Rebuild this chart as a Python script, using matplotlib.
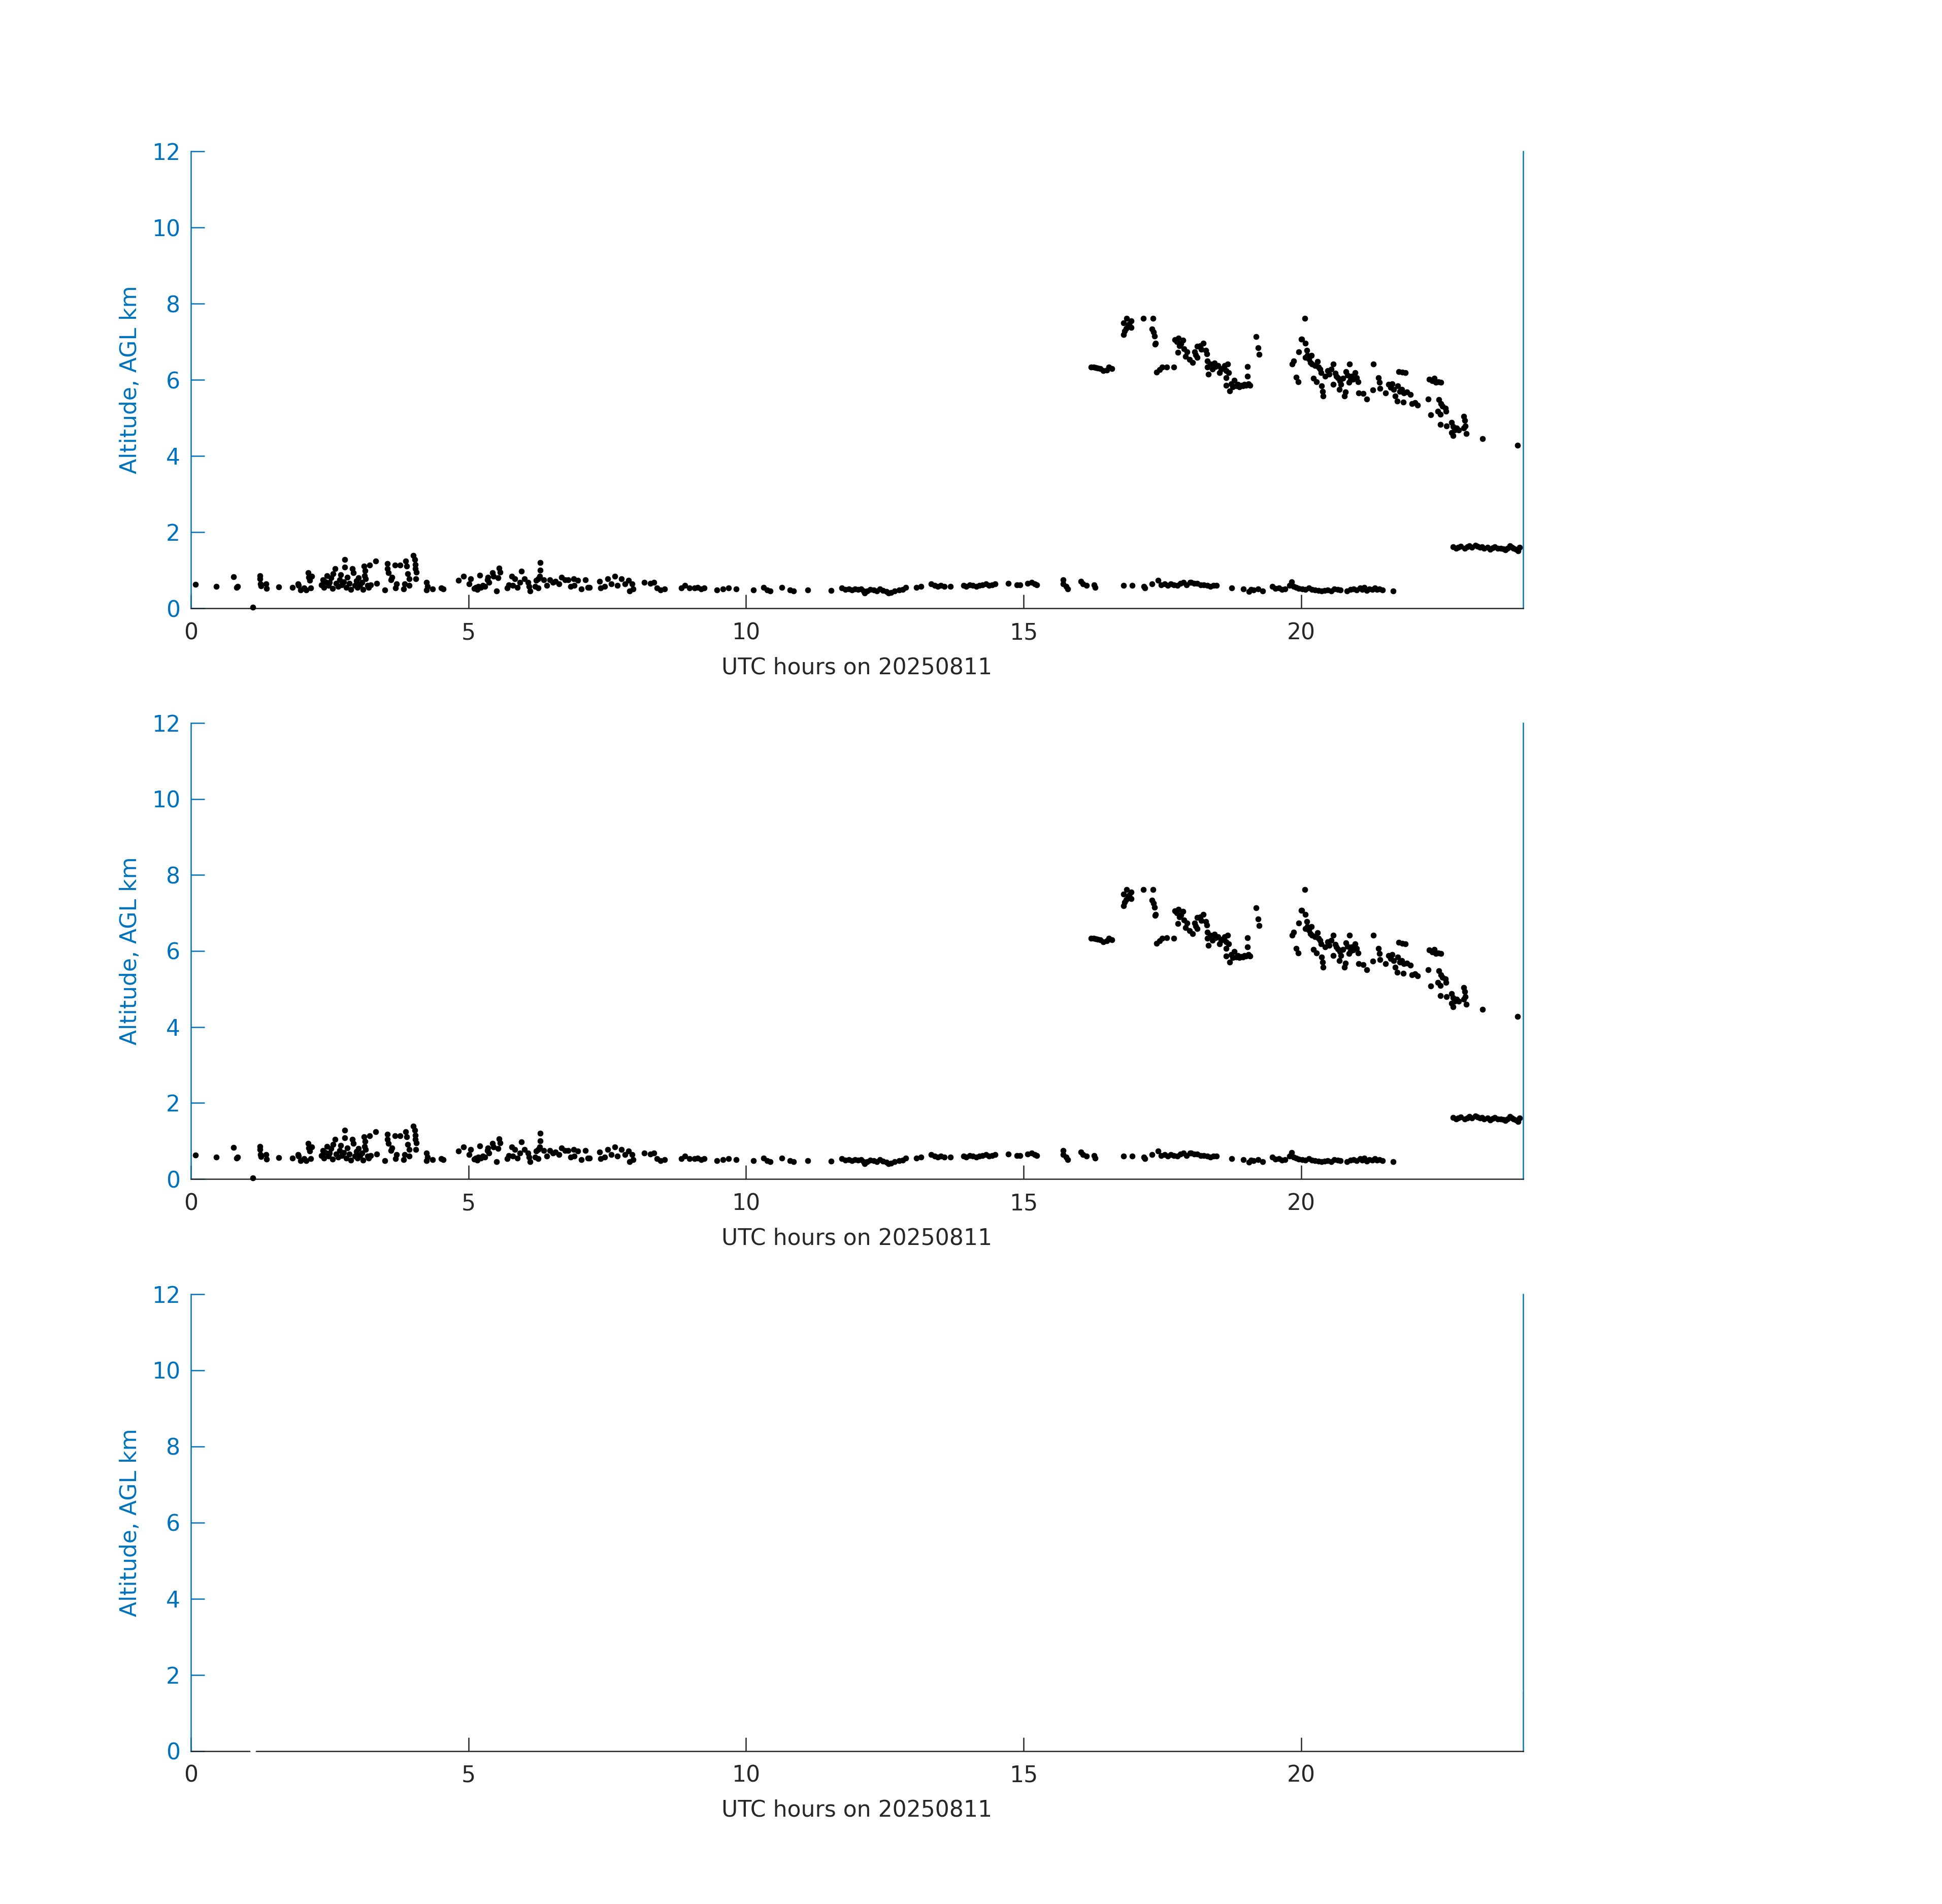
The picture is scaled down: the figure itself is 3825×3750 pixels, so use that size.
import matplotlib
matplotlib.use("Agg")
import matplotlib.pyplot as plt

# ---- data: UTC hour, altitude AGL (km) ----
low_hours = [
    0.08, 0.46, 0.77, 0.82, 0.84, 1.12, 1.24, 1.24, 1.25, 1.26, 1.35, 1.36, 1.58,
    1.83, 1.93, 1.94, 1.98, 2.04, 2.08, 2.11, 2.12, 2.14, 2.18, 2.16,
    2.35, 2.38, 2.40, 2.42, 2.45, 2.48, 2.50, 2.52, 2.55, 2.56, 2.60, 2.62, 2.65, 2.68,
    2.70, 2.72, 2.75, 2.77, 2.77, 2.80, 2.82, 2.85, 2.88, 2.91, 2.93, 2.95, 2.98,
    3.00, 3.02, 3.05, 3.08, 3.10, 3.12, 3.13, 3.14, 3.15, 3.18, 3.20, 3.22, 3.24,
    3.33, 3.35, 3.49, 3.54, 3.54, 3.56, 3.60, 3.62, 3.68, 3.69, 3.70, 3.77,
    3.83, 3.85, 3.87, 3.89, 3.91, 3.93, 3.93, 4.01, 4.03, 4.04, 4.04, 4.05, 4.06,
    4.24, 4.24, 4.26, 4.35, 4.51, 4.55,
    4.82, 4.91, 5.01, 5.04, 5.10, 5.13, 5.16, 5.18, 5.20, 5.22, 5.26, 5.30,
    5.34, 5.35, 5.37, 5.43, 5.45, 5.51, 5.53, 5.55, 5.57,
    5.70, 5.73, 5.78, 5.80, 5.84, 5.88, 5.93, 5.95, 6.01,
    6.07, 6.09, 6.11, 6.20, 6.22, 6.26, 6.26, 6.28, 6.29, 6.29,
    6.36, 6.41, 6.47, 6.52, 6.57, 6.63, 6.68, 6.74, 6.80, 6.84, 6.90, 6.91, 6.97,
    7.03, 7.11, 7.15, 7.18, 7.36, 7.38, 7.45, 7.51, 7.57, 7.64, 7.68, 7.76,
    7.82, 7.88, 7.90, 7.95, 7.97, 8.17, 8.28, 8.34, 8.40, 8.46, 8.53,
    8.84, 8.90, 8.98, 9.07, 9.13, 9.19, 9.25, 9.48, 9.59, 9.69, 9.82,
    10.13, 10.32, 10.38, 10.44, 10.65, 10.79, 10.86, 11.11, 11.53,
    11.73, 11.79, 11.85, 11.91, 11.96, 12.02, 12.07, 12.12, 12.14, 12.18, 12.24,
    12.30, 12.36, 12.41, 12.47, 12.53, 12.57, 12.61, 12.68, 12.76, 12.82, 12.88,
    13.07, 13.15, 13.34, 13.40, 13.45, 13.51, 13.57, 13.68,
    13.92, 13.97, 14.03, 14.09, 14.15, 14.20, 14.26, 14.32, 14.38, 14.43, 14.49,
    14.73, 14.88, 14.94, 15.07, 15.15, 15.20, 15.24,
    15.71, 15.71, 15.77, 15.80, 16.03, 16.07, 16.13, 16.27, 16.29,
    16.80, 16.96, 17.17, 17.19, 17.31, 17.42, 17.48, 17.54, 17.60, 17.65, 17.71,
    17.77, 17.83, 17.88, 17.94, 18.00, 18.02, 18.07, 18.13, 18.19, 18.25, 18.31,
    18.37, 18.42, 18.48, 18.75, 18.96, 19.06, 19.10, 19.14, 19.23, 19.31,
    19.48, 19.54, 19.60, 19.66, 19.71, 19.79, 19.83, 19.87, 19.91, 19.96, 20.02,
    20.08, 20.14, 20.20, 20.25, 20.31, 20.37, 20.42, 20.48, 20.54, 20.60, 20.66, 20.71,
    20.83, 20.89, 20.95, 21.00, 21.06, 21.10, 21.14, 21.18, 21.23, 21.28, 21.33,
    21.37, 21.41, 21.47, 21.66,
]
low_alt = [
    0.63, 0.58, 0.83, 0.55, 0.57, 0.03, 0.86, 0.77, 0.64, 0.59, 0.64, 0.52, 0.56,
    0.55, 0.64, 0.60, 0.48, 0.53, 0.48, 0.94, 0.82, 0.73, 0.84, 0.53,
    0.62, 0.75, 0.55, 0.70, 0.85, 0.60, 0.68, 0.80, 0.52, 0.91, 1.04, 0.65, 0.58, 0.75,
    0.88, 0.62, 0.70, 1.28, 1.08, 0.55, 0.82, 0.66, 0.50, 1.04, 0.93, 0.60, 0.72,
    0.55, 0.80, 0.62, 0.68, 0.50, 1.11, 0.86, 0.99, 0.77, 0.60, 0.55, 1.13, 0.62,
    1.24, 0.65, 0.48, 1.17, 1.04, 0.93, 0.75, 0.82, 1.13, 0.53, 0.64, 1.13,
    0.51, 0.64, 1.24, 1.11, 0.91, 0.77, 0.60, 1.39, 1.28, 1.15, 1.04, 0.77, 0.95,
    0.68, 0.48, 0.57, 0.51, 0.53, 0.51,
    0.73, 0.84, 0.64, 0.78, 0.52, 0.55, 0.50, 0.58, 0.87, 0.55, 0.60, 0.57,
    0.75, 0.82, 0.68, 0.93, 0.84, 0.46, 0.80, 1.06, 0.95,
    0.53, 0.62, 0.84, 0.60, 0.77, 0.55, 0.68, 0.97, 0.77,
    0.68, 0.57, 0.46, 0.57, 0.73, 0.77, 0.53, 0.84, 1.20, 1.00,
    0.75, 0.60, 0.75, 0.68, 0.71, 0.64, 0.82, 0.75, 0.75, 0.57, 0.77, 0.60, 0.73,
    0.51, 0.75, 0.55, 0.55, 0.71, 0.53, 0.57, 0.77, 0.64, 0.84, 0.60, 0.77,
    0.64, 0.73, 0.46, 0.64, 0.51, 0.68, 0.66, 0.68, 0.53, 0.48, 0.51,
    0.53, 0.60, 0.53, 0.53, 0.55, 0.51, 0.53, 0.48, 0.51, 0.53, 0.51,
    0.48, 0.55, 0.48, 0.46, 0.55, 0.48, 0.46, 0.48, 0.47,
    0.53, 0.50, 0.51, 0.48, 0.51, 0.50, 0.51, 0.46, 0.40, 0.46, 0.50,
    0.48, 0.45, 0.51, 0.47, 0.44, 0.40, 0.42, 0.46, 0.48, 0.50, 0.55,
    0.55, 0.57, 0.64, 0.60, 0.57, 0.60, 0.57, 0.57,
    0.60, 0.58, 0.62, 0.60, 0.57, 0.60, 0.62, 0.64, 0.60, 0.62, 0.64,
    0.66, 0.62, 0.62, 0.66, 0.68, 0.64, 0.62,
    0.75, 0.64, 0.57, 0.51, 0.71, 0.64, 0.60, 0.62, 0.55,
    0.60, 0.60, 0.57, 0.53, 0.64, 0.73, 0.62, 0.64, 0.60, 0.64, 0.62,
    0.60, 0.66, 0.68, 0.62, 0.68, 0.68, 0.66, 0.66, 0.62, 0.62, 0.60,
    0.57, 0.60, 0.60, 0.53, 0.51, 0.44, 0.50, 0.48, 0.51, 0.46,
    0.57, 0.52, 0.53, 0.49, 0.51, 0.60, 0.69, 0.58, 0.55, 0.52, 0.51,
    0.50, 0.53, 0.50, 0.48, 0.47, 0.46, 0.47, 0.48, 0.46, 0.51, 0.49, 0.48,
    0.46, 0.49, 0.51, 0.48, 0.53, 0.50, 0.55, 0.47, 0.51, 0.49, 0.53,
    0.50, 0.51, 0.48, 0.46,
]

mid_hours = [
    22.74, 22.79, 22.83, 22.88, 22.95, 22.99, 23.03, 23.08, 23.14, 23.18, 23.22,
    23.26, 23.30, 23.36, 23.41, 23.45, 23.49, 23.54, 23.60, 23.64, 23.68, 23.72,
    23.76, 23.80, 23.83, 23.87, 23.91, 23.94,
]
mid_alt = [
    1.62, 1.58, 1.60, 1.63, 1.58, 1.61, 1.64, 1.60, 1.66, 1.63, 1.60,
    1.62, 1.58, 1.60, 1.55, 1.59, 1.62, 1.58, 1.58, 1.56, 1.53, 1.58,
    1.64, 1.60, 1.58, 1.55, 1.51, 1.60,
]

high_hours = [
    16.22, 16.26, 16.30, 16.34, 16.38, 16.44, 16.50, 16.54, 16.59,
    16.80, 16.82, 16.85, 16.88, 16.94, 16.80, 16.86, 16.94, 16.90,
    17.16, 17.33, 17.31, 17.34, 17.36, 17.37, 17.38,
    17.40, 17.45, 17.50, 17.58, 17.71,
    17.73, 17.79, 17.87, 17.81, 17.89, 17.78, 17.95, 17.99, 18.05, 17.76, 17.84, 17.92,
    18.08, 18.13, 18.18, 18.24, 18.28, 18.30, 18.31, 18.13, 18.10, 18.20,
    18.31, 18.37, 18.44, 18.50, 18.56, 18.62, 18.68, 18.33, 18.40, 18.53, 18.65,
    18.70, 18.46, 18.58,
    18.65, 18.65, 18.71, 18.77, 18.83, 18.89, 18.95, 19.01, 19.08, 19.03, 19.03,
    18.80, 18.74, 18.86, 18.92, 18.98, 19.05,
    19.19, 19.23, 19.24,
    19.84, 19.87, 19.91, 19.95, 20.07,
    20.00, 19.96, 20.01, 20.08, 20.10, 20.11, 20.08, 20.14, 20.19, 20.17, 20.20,
    20.25, 20.30, 20.31, 20.34, 20.36, 20.22, 20.28, 20.37, 20.39, 20.40,
    20.43, 20.48, 20.54, 20.58, 20.62, 20.63, 20.58, 20.69, 20.72, 20.75, 20.78,
    20.80, 20.81, 20.87, 20.91, 20.86, 20.97, 21.00, 21.03, 20.94, 20.51, 20.66,
    20.84, 20.89, 20.70,
    21.04, 21.12, 21.18, 21.29, 21.30, 21.39, 21.41, 21.42,
    21.52, 21.58, 21.64, 21.67, 21.70, 21.74, 21.81, 21.85, 21.91, 21.97, 21.73,
    21.84, 22.00, 22.10, 21.61, 21.78, 22.05,
    21.76, 21.88, 21.82,
    22.29, 22.34, 22.31, 22.40, 22.43, 22.52, 22.36, 22.47,
    22.48, 22.52, 22.55, 22.60, 22.61, 22.46, 22.51,
    22.51, 22.62, 22.71, 22.74, 22.77, 22.80, 22.84, 22.74, 22.71,
    22.93, 22.95, 22.96, 22.93, 22.98,
    23.27, 23.90,
]
high_alt = [
    6.33, 6.33, 6.32, 6.31, 6.29, 6.24, 6.26, 6.33, 6.29,
    7.19, 7.28, 7.35, 7.42, 7.37, 7.50, 7.61, 7.55, 7.47,
    7.61, 7.61, 7.33, 7.26, 7.15, 6.94, 6.96,
    6.20, 6.27, 6.33, 6.34, 6.33,
    7.06, 7.09, 7.04, 6.90, 6.81, 6.72, 6.73, 6.53, 6.46, 7.00, 6.95, 6.62,
    6.73, 6.88, 6.90, 6.96, 6.77, 6.68, 6.50, 6.59, 6.66, 6.80,
    6.33, 6.42, 6.44, 6.37, 6.28, 6.37, 6.41, 6.15, 6.28, 6.19, 6.24,
    6.19, 6.35, 6.30,
    6.06, 5.86, 5.71, 5.82, 5.84, 5.82, 5.84, 5.86, 5.86, 6.35, 6.10,
    5.99, 5.90, 5.88, 5.85, 5.88, 5.90,
    7.14, 6.84, 6.67,
    6.42, 6.50, 6.07, 5.95, 7.61,
    7.07, 6.73, 7.07, 6.96, 6.77, 6.64, 6.59, 6.55, 6.64, 6.46, 6.42,
    6.37, 6.48, 6.33, 6.28, 6.19, 6.04, 5.95, 5.84, 5.70, 5.57,
    6.10, 6.24, 6.28, 6.41, 6.17, 6.10, 5.88, 5.75, 5.88, 6.04, 5.57,
    5.68, 6.21, 6.41, 6.10, 5.93, 6.19, 6.06, 5.95, 6.02, 6.15, 6.05,
    6.12, 6.00, 5.98,
    5.66, 5.64, 5.50, 5.73, 6.41, 6.06, 5.93, 5.77,
    5.66, 5.88, 5.90, 5.75, 5.57, 5.84, 5.75, 5.66, 5.68, 5.62, 5.44,
    5.41, 5.37, 5.34, 5.80, 5.70, 5.40,
    6.22, 6.19, 6.20,
    5.50, 5.08, 6.02, 6.04, 5.93, 5.93, 5.97, 5.95,
    5.48, 5.37, 5.31, 5.26, 5.17, 5.17, 5.09,
    4.83, 4.79, 4.88, 4.77, 4.68, 4.73, 4.68, 4.53, 4.62,
    5.04, 4.93, 4.79, 4.73, 4.59,
    4.46, 4.28,
]

x_ticks = [0, 5, 10, 15, 20]
y_ticks = [0, 2, 4, 6, 8, 10, 12]
x_label = "UTC hours on 20250811"
y_label = "Altitude, AGL km"

BLUE = "#0072BD"
DARK = "#262626"

hours = low_hours + mid_hours + high_hours
alts = low_alt + mid_alt + high_alt

fig = plt.figure(figsize=(12.75, 12.5), dpi=300)
positions = [
    [0.0983, 0.6805, 0.686, 0.2400],
    [0.0983, 0.3808, 0.686, 0.2395],
    [0.0983, 0.0803, 0.686, 0.2400],
]
dot_colors = ["black", "black", "white"]

for pos, dc in zip(positions, dot_colors):
    ax = fig.add_axes(pos)
    ax.set_xlim(0, 24)
    ax.set_ylim(0, 12)
    ax.plot(hours, alts, linestyle="none", marker="o", markersize=2.6,
            markerfacecolor=dc, markeredgecolor=dc, markeredgewidth=0.2,
            clip_on=False, zorder=3)
    ax.set_xticks(x_ticks)
    ax.set_yticks(y_ticks)
    ax.spines["top"].set_visible(False)
    ax.spines["left"].set_color(BLUE)
    ax.spines["right"].set_color(BLUE)
    ax.spines["bottom"].set_color(DARK)
    for s in ax.spines.values():
        s.set_linewidth(0.6)
    ax.tick_params(axis="x", direction="in", length=6.5, width=0.6,
                   colors=DARK, labelsize=10.6, pad=6.5, top=False)
    ax.tick_params(axis="y", direction="in", length=6.5, width=0.6,
                   colors=BLUE, labelsize=10.6, pad=5, right=False)
    ax.set_xlabel(x_label, fontsize=10.6, color=DARK, labelpad=6)
    ax.set_ylabel(y_label, fontsize=10.6, color=BLUE, labelpad=5)

fig.savefig("out.png", dpi=300, facecolor="white")
